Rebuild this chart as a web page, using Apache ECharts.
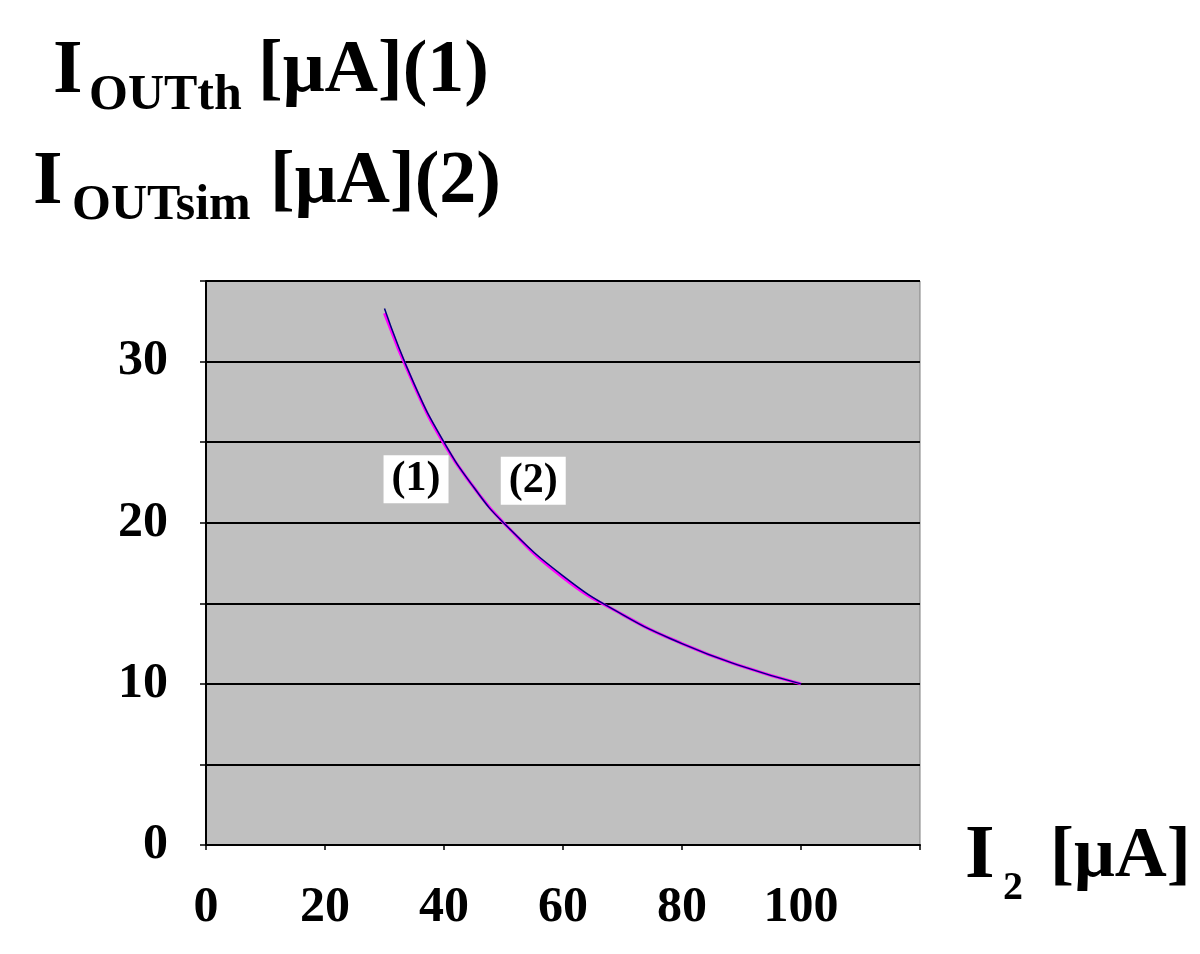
<!DOCTYPE html>
<html>
<head>
<meta charset="utf-8">
<script src="https://cdn.jsdelivr.net/npm/echarts@6/dist/echarts.min.js"></script>
<style>
  html, body { margin: 0; padding: 0; background: #fff; }
  #chart { width: 1200px; height: 954px; }
</style>
</head>
<body>
<div id="chart"></div>
<script>
const serif = '"Liberation Serif", "Times New Roman", serif';

// I2 [µA] sample points
const i2Values = [30, 35, 40, 45, 50, 60, 70, 80, 90, 100];
// (1) theoretical output current
const ioutTh = [33.3, 28.6, 25.0, 22.2, 20.0, 16.7, 14.3, 12.5, 11.1, 10.0];
// (2) simulated output current
const ioutSim = [33.0, 28.5, 24.9, 22.2, 20.0, 16.6, 14.3, 12.5, 11.1, 10.0];

const xTicks = [0, 20, 40, 60, 80, 100];
const yTicks = [0, 10, 20, 30];

function pairs(xs, ys) {
    return xs.map((x, i) => [x, ys[i]]);
}

function tagLabel(text) {
    return {
        show: true,
        position: 'inside',
        formatter: text,
        color: '#000',
        fontFamily: serif,
        fontWeight: 'bold',
        fontSize: 42,
        backgroundColor: '#fff',
        padding: [4, 8, 2, 8]
    };
}

function txt(text, x, y, size) {
    return {
        type: 'text',
        style: {
            text: text,
            x: x,
            y: y,
            font: 'bold ' + size + 'px ' + serif,
            fill: '#000',
            verticalAlign: 'middle'
        }
    };
}

const chart = echarts.init(document.getElementById('chart'));

chart.setOption({
    animation: false,
    grid: {
        left: 206,
        right: 280,
        top: 281,
        bottom: 109,
        show: true,
        backgroundColor: '#c0c0c0',
        borderColor: '#808080',
        borderWidth: 1
    },
    xAxis: {
        type: 'value',
        min: 0,
        max: 120,
        interval: 20,
        axisLine: { show: true, onZero: false, lineStyle: { color: '#000', width: 2 } },
        axisTick: { show: true, length: 5, lineStyle: { color: '#000', width: 1.5 } },
        splitLine: { show: false },
        axisLabel: {
            margin: 38,
            fontFamily: serif,
            fontWeight: 'bold',
            fontSize: 50,
            color: '#000',
            formatter: v => xTicks.includes(v) ? String(v) : ''
        }
    },
    yAxis: {
        type: 'value',
        min: 0,
        max: 35,
        interval: 5,
        axisLine: { show: true, lineStyle: { color: '#000', width: 2 } },
        axisTick: { show: true, length: 6, lineStyle: { color: '#000', width: 1.5 } },
        splitLine: { show: true, lineStyle: { color: '#000', width: 2 } },
        axisLabel: {
            margin: 38,
            fontFamily: serif,
            fontWeight: 'bold',
            fontSize: 50,
            color: '#000',
            formatter: v => yTicks.includes(v) ? String(v) : ''
        }
    },
    series: [
        {
            name: '(2)',
            type: 'line',
            data: pairs(i2Values, ioutSim),
            smooth: true,
            symbol: 'none',
            lineStyle: { color: '#ff00ff', width: 3 },
            markPoint: {
                symbol: 'circle',
                symbolSize: 0,
                data: [{ coord: [55.0, 22.6], label: tagLabel('(2)') }]
            },
            z: 2
        },
        {
            name: '(1)',
            type: 'line',
            data: pairs(i2Values, ioutTh),
            smooth: true,
            symbol: 'none',
            lineStyle: { color: '#000080', width: 1.5 },
            markPoint: {
                symbol: 'circle',
                symbolSize: 0,
                data: [{ coord: [35.3, 22.7], label: tagLabel('(1)') }]
            },
            z: 3
        }
    ],
    graphic: [
        txt('I', 53, 72, 76),
        txt('OUTth', 89, 96, 50),
        txt('[μA](1)', 258, 72, 74),
        txt('I', 33, 183, 76),
        txt('OUTsim', 72, 206, 50),
        txt('[μA](2)', 270, 183, 74),
        txt('I', 965, 857, 76),
        txt('2', 1003, 889, 40),
        txt('[μA]', 1050, 857, 72)
    ]
});
</script>
</body>
</html>
